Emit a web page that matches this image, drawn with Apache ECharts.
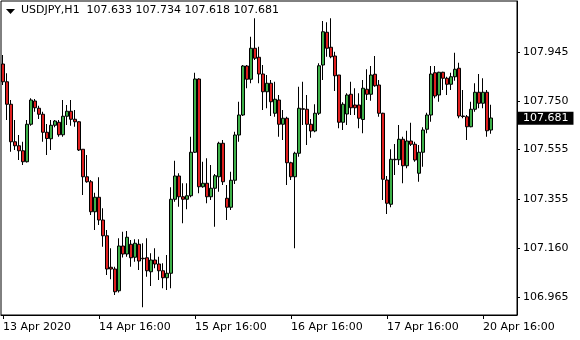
<!DOCTYPE html>
<html><head><meta charset="utf-8">
<script src="https://cdn.jsdelivr.net/npm/echarts@6.0.0/dist/echarts.min.js"></script>
<style>html,body{margin:0;padding:0;background:#fff}#c{width:580px;height:340px}</style>
</head><body><div id="c"></div>
<script>
const symbolName = 'USDJPY,H1';
const opens = [107.897,107.826,107.736,107.586,107.570,107.550,107.506,107.656,107.749,107.720,
107.696,107.624,107.598,107.652,107.664,107.614,107.688,107.708,107.676,107.666,
107.556,107.446,107.426,107.306,107.364,107.273,107.210,107.084,107.077,106.990,
107.169,107.137,107.176,107.124,107.176,107.120,107.122,107.066,107.113,107.097,
107.070,107.042,107.060,107.356,107.449,107.366,107.356,107.370,107.544,107.837,
107.406,107.420,107.366,107.400,107.446,107.580,107.360,107.324,107.432,107.613,
107.693,107.889,107.836,107.960,107.924,107.857,107.786,107.820,107.700,107.753,
107.656,107.680,107.502,107.446,107.540,107.718,107.716,107.656,107.629,107.700,
107.893,108.024,107.964,107.929,107.853,107.664,107.697,107.776,107.733,107.733,
107.675,107.796,107.776,107.856,107.813,107.700,107.433,107.336,107.516,107.514,
107.596,107.490,107.589,107.576,107.460,107.544,107.636,107.693,107.862,107.773,
107.864,107.840,107.816,107.846,107.880,107.689,107.686,107.646,107.716,107.784,
107.740,107.784,107.633];
const closes = [107.826,107.736,107.586,107.570,107.550,107.506,107.656,107.753,107.722,107.696,
107.624,107.599,107.652,107.669,107.614,107.688,107.708,107.676,107.666,107.553,
107.446,107.426,107.306,107.364,107.273,107.210,107.077,107.077,106.986,107.169,
107.137,107.204,107.122,107.180,107.109,107.118,107.070,107.113,107.097,107.070,
107.042,107.060,107.356,107.449,107.366,107.356,107.370,107.544,107.837,107.406,
107.420,107.366,107.400,107.450,107.580,107.426,107.324,107.432,107.613,107.693,
107.889,107.836,107.960,107.920,107.857,107.786,107.820,107.746,107.756,107.656,
107.680,107.502,107.446,107.540,107.720,107.716,107.656,107.629,107.700,107.890,
108.026,107.960,107.926,107.850,107.664,107.736,107.773,107.722,107.722,107.680,
107.800,107.776,107.853,107.810,107.700,107.436,107.340,107.516,107.514,107.596,
107.490,107.589,107.576,107.513,107.544,107.633,107.693,107.857,107.769,107.864,
107.840,107.816,107.846,107.876,107.689,107.687,107.646,107.716,107.784,107.740,
107.784,107.630,107.681];
const lows = [107.813,107.673,107.546,107.553,107.513,107.493,107.503,107.650,107.706,107.677,
107.586,107.533,107.553,107.644,107.606,107.606,107.653,107.650,107.646,107.549,
107.373,107.422,107.293,107.233,107.253,107.166,107.053,107.036,106.973,106.983,
107.123,107.126,107.086,107.106,107.073,106.924,107.046,107.009,107.080,107.033,
107.000,106.993,107.000,107.346,107.326,107.260,107.316,107.364,107.541,107.380,
107.402,107.340,107.353,107.246,107.386,107.413,107.273,107.313,107.417,107.586,
107.689,107.800,107.820,107.913,107.820,107.713,107.720,107.689,107.686,107.606,
107.593,107.413,107.433,107.160,107.526,107.653,107.573,107.602,107.624,107.693,
107.833,107.926,107.920,107.789,107.640,107.633,107.653,107.693,107.693,107.640,
107.620,107.753,107.750,107.806,107.686,107.353,107.297,107.324,107.453,107.493,
107.420,107.480,107.569,107.506,107.426,107.486,107.620,107.666,107.760,107.746,
107.793,107.773,107.793,107.830,107.680,107.680,107.593,107.644,107.706,107.720,
107.720,107.606,107.618];
const highs = [107.933,107.860,107.753,107.673,107.613,107.586,107.673,107.760,107.757,107.730,
107.706,107.657,107.673,107.673,107.673,107.753,107.733,107.753,107.713,107.668,
107.556,107.533,107.433,107.382,107.444,107.320,107.233,107.160,107.086,107.200,
107.226,107.229,107.193,107.196,107.196,107.180,107.200,107.140,107.160,107.126,
107.100,107.133,107.404,107.510,107.460,107.420,107.420,107.606,107.862,107.840,
107.506,107.520,107.493,107.457,107.586,107.593,107.413,107.466,107.626,107.746,
107.893,107.893,108.006,108.080,107.966,107.893,107.853,107.833,107.826,107.773,
107.713,107.686,107.506,107.546,107.806,107.826,107.773,107.677,107.736,107.900,
108.069,108.064,108.080,107.946,107.853,107.744,107.780,107.826,107.800,107.780,
107.833,107.876,107.889,107.929,107.833,107.702,107.449,107.556,107.577,107.653,
107.606,107.630,107.662,107.586,107.573,107.644,107.702,107.889,107.889,107.866,
107.866,107.846,107.862,107.942,107.902,107.793,107.693,107.746,107.820,107.857,
107.840,107.793,107.734];
// trading days shown: [day, first hour, end hour]
const sessionDays = [['13 Apr',16,24],['14 Apr',0,24],['15 Apr',0,24],['16 Apr',0,24],['17 Apr',0,24],['20 Apr',0,19]];
const xTickIndex = [0,24,48,72,96,120];
const xTickLabels = ['13 Apr 2020','14 Apr 16:00','15 Apr 16:00','16 Apr 16:00','17 Apr 16:00','20 Apr 16:00'];
const yTickValues = [107.945,107.750,107.555,107.355,107.160,106.965];
const padBars = 6;

const UP = '#3DB048', DOWN = '#E01F1F', FONT = 'DejaVu Sans';

const categories = [];
sessionDays.forEach(([d,h0,h1]) => { for (let h=h0; h<h1; h++) categories.push(d+' '+String(h).padStart(2,'0')+':00'); });
for (let k=1; k<=padBars; k++) categories.push(' '.repeat(k));
const ohlc = opens.map((o,i) => [o, closes[i], lows[i], highs[i]]);
const n = closes.length - 1;
const f3 = v => v.toFixed(3);

const chart = echarts.init(document.getElementById('c'), null, {renderer:'canvas'});
chart.setOption({
  animation:false,
  backgroundColor:'#fff',
  textStyle:{fontFamily:FONT},
  title:{
    text: symbolName + '  ' + [opens[n],highs[n],lows[n],closes[n]].map(f3).join(' '),
    left:21, top:5, padding:0,
    textStyle:{fontFamily:FONT, fontSize:11, fontWeight:'normal', color:'#000'}
  },
  graphic:[{type:'polygon', shape:{points:[[6,9],[15,9],[10.5,14]]}, style:{fill:'#000'}}],
  grid:{left:1, top:1, width:516, height:314, show:true, borderColor:'#000', borderWidth:1},
  xAxis:{
    type:'category', data:categories, boundaryGap:true,
    axisLine:{show:true, lineStyle:{color:'#000', width:1}},
    axisTick:{show:true, alignWithLabel:true, interval:(i)=>xTickIndex.includes(i), length:4, lineStyle:{color:'#000'}},
    axisLabel:{interval:(i)=>xTickIndex.includes(i), formatter:(v,i)=>{const k=xTickIndex.indexOf(i); return k>=0?xTickLabels[k]:'';},
      align:'left', margin:7, color:'#000', fontSize:11, fontFamily:FONT},
    splitLine:{show:false}
  },
  yAxis:{
    type:'value', position:'right', min:106.893, max:108.149,
    axisLine:{show:true, lineStyle:{color:'#000', width:1}},
    axisTick:{show:true, customValues:yTickValues, length:3, lineStyle:{color:'#000'}},
    axisLabel:{customValues:yTickValues, formatter:f3, margin:6, color:'#000', fontSize:11, fontFamily:FONT},
    splitLine:{show:false}
  },
  series:[{
    type:'candlestick', data:ohlc, barWidth:3,
    itemStyle:{color:UP, color0:DOWN, borderColor:'#000', borderColor0:'#000', borderWidth:1},
    markLine:{
      silent:true, symbol:['none','none'], animation:false,
      data:[{yAxis:closes[n]}],
      lineStyle:{color:'rgba(0,0,0,0)', width:1, type:'solid'},
      emphasis:{disabled:true},
      label:{show:true, position:'end', distance:0, formatter:()=>f3(closes[n]),
        color:'#fff', backgroundColor:'#000', padding:[1,5,0,6], lineHeight:12,
        fontSize:11, fontFamily:FONT}
    }
  }]
});
</script>
</body></html>
